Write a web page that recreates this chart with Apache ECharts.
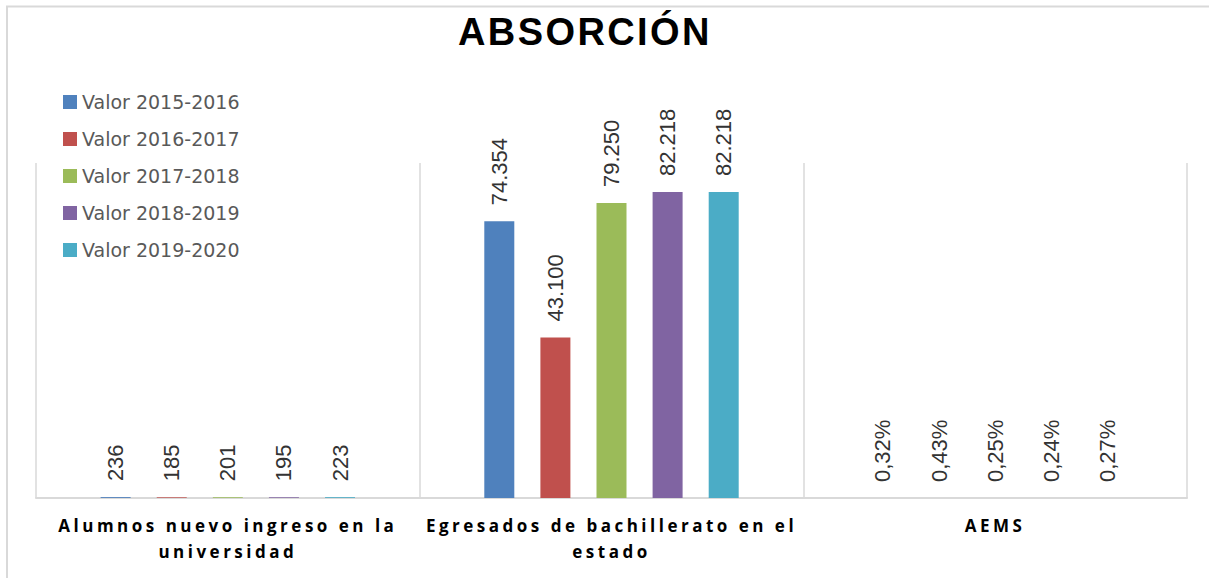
<!DOCTYPE html>
<html>
<head>
<meta charset="utf-8">
<title>Absorción</title>
<script src="https://cdn.jsdelivr.net/npm/echarts@6.0.0/dist/echarts.min.js"></script>
<style>
  html, body { margin: 0; padding: 0; background: #ffffff; }
  #chart { width: 1209px; height: 578px; }
</style>
</head>
<body>
<div id="chart"></div>
<script>
// Categories (line breaks as laid out under the axis)
const categories = [
  'Alumnos nuevo ingreso en la\nuniversidad',
  'Egresados de bachillerato en el\nestado',
  'AEMS'
];

// School years shown in the legend
const seriesNames = [
  'Valor 2015-2016',
  'Valor 2016-2017',
  'Valor 2017-2018',
  'Valor 2018-2019',
  'Valor 2019-2020'
];

// Values per category; the AEMS column is a percentage
const valor2015_2016 = [236, 74354, 0.32];
const valor2016_2017 = [185, 43100, 0.43];
const valor2017_2018 = [201, 79250, 0.25];
const valor2018_2019 = [195, 82218, 0.24];
const valor2019_2020 = [223, 82218, 0.27];

const seriesValues = [valor2015_2016, valor2016_2017, valor2017_2018, valor2018_2019, valor2019_2020];
const seriesColors = ['#4f81bd', '#c0504d', '#9bbb59', '#8064a2', '#4bacc6'];

// Value axis range
const yMin = 0;
const yMax = 90000;

// Spanish number formats: '.' for thousands, ',' for decimals
function formatLabel(value, dataIndex) {
  if (dataIndex === 2) {
    return value.toFixed(2).replace('.', ',') + '%';
  }
  return String(Math.round(value)).replace(/\B(?=(\d{3})+(?!\d))/g, '.');
}

const chart = echarts.init(document.getElementById('chart'), null, { renderer: 'svg' });

const series = seriesNames.map((name, i) => ({
  name: name,
  type: 'bar',
  data: seriesValues[i],
  barWidth: 30,
  barGap: '87%',
  itemStyle: { color: seriesColors[i] },
  label: {
    show: true,
    position: 'top',
    distance: 16,
    rotate: 90,
    align: 'left',
    verticalAlign: 'middle',
    color: '#333333',
    fontFamily: '"Liberation Sans Narrow", "Liberation Sans", sans-serif',
    fontSize: 22,
    formatter: p => formatLabel(p.value, p.dataIndex)
  }
}));

chart.setOption({
  animation: false,
  backgroundColor: '#ffffff',
  title: {
    text: 'ABSORCIÓN',
    left: 453,
    top: 8,
    textStyle: {
      fontFamily: '"Liberation Sans", Arial, sans-serif',
      fontWeight: 'bold',
      fontSize: 38,
      color: '#000000'
    }
  },
  legend: {
    orient: 'vertical',
    left: 58,
    top: 86,
    itemWidth: 14,
    itemHeight: 14,
    itemGap: 15,
    icon: 'rect',
    data: seriesNames,
    textStyle: {
      fontFamily: '"DejaVu Sans", sans-serif',
      fontSize: 19,
      lineHeight: 22,
      color: '#595959'
    }
  },
  grid: {
    left: 36,
    right: 22,
    top: 163,
    bottom: 80,
    containLabel: false
  },
  xAxis: {
    type: 'category',
    data: categories,
    axisTick: { show: false },
    axisLine: { lineStyle: { color: '#d9d9d9', width: 2 } },
    splitLine: { show: true, lineStyle: { color: '#d9d9d9', width: 1.5 } },
    axisLabel: {
      interval: 0,
      margin: 14,
      fontFamily: '"Open Sans", sans-serif',
      fontWeight: 'bold',
      fontSize: 17,
      lineHeight: 26,
      color: '#000000'
    }
  },
  yAxis: {
    type: 'value',
    min: yMin,
    max: yMax,
    show: false,
    splitLine: { show: false }
  },
  graphic: [{
    type: 'rect',
    silent: true,
    shape: { x: 7, y: 6.5, width: 1400, height: 800 },
    style: { fill: 'none', stroke: '#d9d9d9', lineWidth: 2 }
  }],
  series: series
});

// Tracked (letter-spaced) text for the title and the category names
const spacing = {};
spacing['ABSORCIÓN'] = '2.4px';
categories.forEach(c => c.split('\n').forEach(line => { spacing[line] = '3.5px'; }));

function applySpacing() {
  document.querySelectorAll('#chart text').forEach(t => {
    const s = t.textContent;
    if (Object.prototype.hasOwnProperty.call(spacing, s)) {
      t.setAttribute('letter-spacing', spacing[s]);
    }
  });
}
chart.on('finished', applySpacing);
applySpacing();
setTimeout(applySpacing, 50);
</script>
</body>
</html>
